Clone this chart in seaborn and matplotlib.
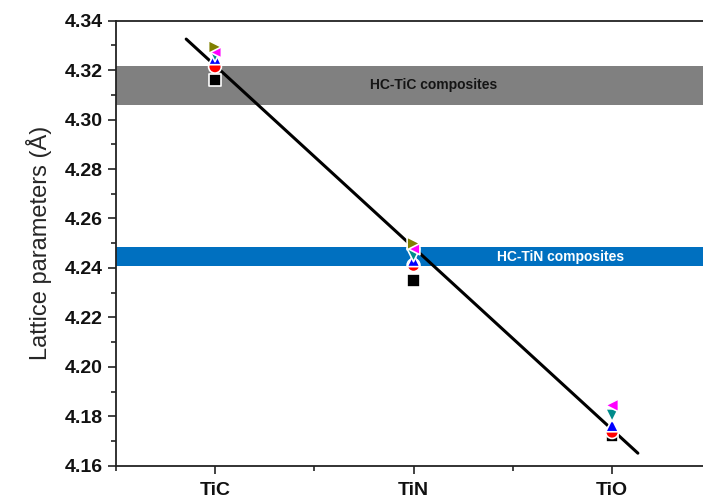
import numpy as np
import pandas as pd
import matplotlib
matplotlib.use("Agg")
import matplotlib.pyplot as plt
from matplotlib.ticker import MultipleLocator, FixedLocator, FormatStrFormatter
import seaborn as sns

# Compounds on the x axis
compounds = ["TiC", "TiN", "TiO"]

# Lattice parameters (Å) for each data set
set_square = [4.3160, 4.2350, 4.1722]
set_circle = [4.3214, 4.2411, 4.1736]
set_up = [4.3248, 4.2431, 4.1763]
set_down = [4.3260, 4.2451, 4.1804]
set_left = [4.3275, 4.2479, 4.1844]
set_right = [4.3294, 4.2499, np.nan]

# Lattice parameter ranges of the composites
tic_band = [4.3059, 4.3217]
tin_band = [4.2407, 4.2485]

series = {
    "s": set_square,
    "o": set_circle,
    "^": set_up,
    "v": set_down,
    "<": set_left,
    ">": set_right,
}
colors = {
    "s": "#000000",
    "o": "#ff0000",
    "^": "#0000ff",
    "v": "#008b8b",
    "<": "#ff00ff",
    ">": "#808000",
}

xpos = np.arange(1, len(compounds) + 1)
rows = []
for key, vals in series.items():
    for x, v in zip(xpos, vals):
        rows.append({"x": x, "a": v, "set": key})
df = pd.DataFrame(rows).dropna()

sns.set_style("ticks")
plt.rcParams["font.family"] = ["Liberation Sans", "DejaVu Sans"]

fig = plt.figure(figsize=(7.03, 4.98), dpi=100)
ax = fig.add_axes([0.1646, 0.0649, 0.8354, 0.8935])

# Composite ranges as horizontal bands
ax.axhspan(tic_band[0], tic_band[1], color="#808080", lw=0, zorder=0)
ax.axhspan(tin_band[0], tin_band[1], color="#0070c0", lw=0, zorder=0)
ax.text(2.10, np.mean(tic_band), "HC-TiC composites", ha="center", va="center",
        fontsize=10, fontweight="bold", color="#151515", zorder=1)
ax.text(2.74, np.mean(tin_band), "HC-TiN composites", ha="center", va="center",
        fontsize=10, fontweight="bold", color="white", zorder=1)

# Linear fit through all data points
fit = np.polyfit(df["x"], df["a"], 1)
xf = np.linspace(0.855, 3.13, 50)
fit_df = pd.DataFrame({"x": xf, "a": np.polyval(fit, xf)})
sns.lineplot(data=fit_df, x="x", y="a", color="black", lw=2.2, ax=ax, zorder=3)

sns.scatterplot(data=df, x="x", y="a", hue="set", style="set",
                palette=colors, markers={k: k for k in series},
                hue_order=list(series), style_order=list(series),
                s=85, edgecolor="white", linewidth=1.2, legend=False,
                ax=ax, zorder=4)

ax.set_xlim(0.5, 3.458)
ax.set_ylim(4.16, 4.34)
ax.set_xticks(xpos)
ax.set_xticklabels(compounds)
ax.xaxis.set_minor_locator(FixedLocator([0.5, 1.5, 2.5]))
ax.yaxis.set_major_locator(MultipleLocator(0.02))
ax.yaxis.set_minor_locator(MultipleLocator(0.01))
ax.yaxis.set_major_formatter(FormatStrFormatter("%.2f"))

ax.tick_params(which="major", direction="out", length=6, width=1.2,
               labelsize=14, color="#222222", labelcolor="#111111")
ax.tick_params(axis="x", which="major", pad=6)
ax.tick_params(which="minor", direction="out", length=3.5, width=1.2,
               color="#222222")
for lab in ax.get_xticklabels() + ax.get_yticklabels():
    lab.set_fontweight("bold")

for side in ["left", "bottom", "top"]:
    ax.spines[side].set_linewidth(1.3)
    ax.spines[side].set_color("#222222")
ax.spines["right"].set_visible(False)
ax.spines["top"].set_visible(True)

ax.set_xlabel("")
ax.set_ylabel("Lattice parameters (Å)", fontsize=17, labelpad=9)

fig.savefig("out.png", dpi=100)
